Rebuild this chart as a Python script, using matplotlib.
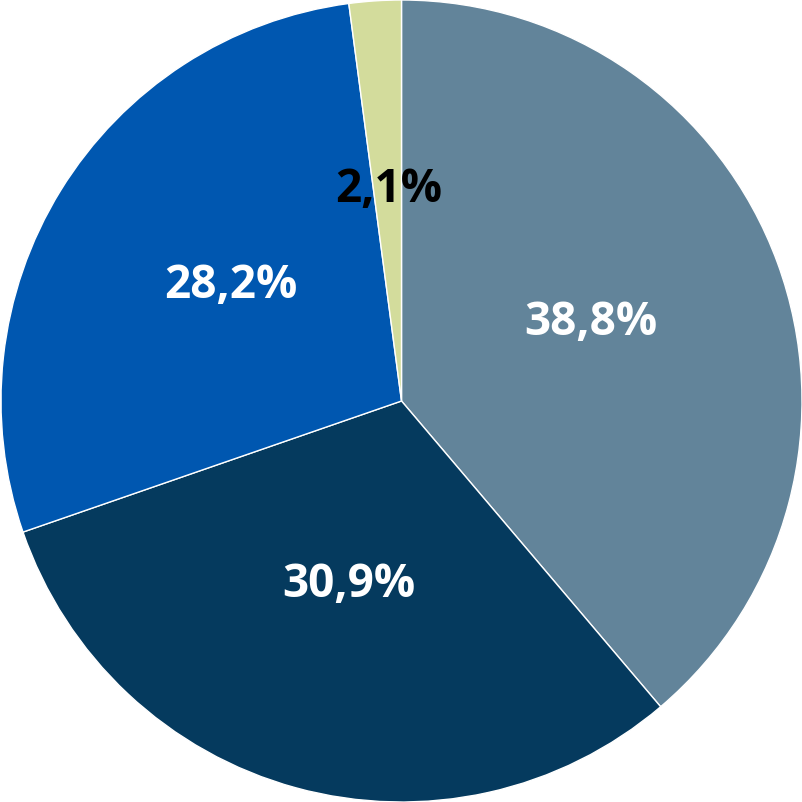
import matplotlib
matplotlib.use('Agg')
import matplotlib.pyplot as plt
import numpy as np

# slice shares in percent, clockwise from 12 o'clock
shares = [38.8, 30.9, 28.2, 2.1]
labels = ['38,8%', '30,9%', '28,2%', '2,1%']
colors = ['#62849a', '#053a5e', '#0057b0', '#d3dc9c']
text_colors = ['white', 'white', 'white', 'black']

# label placement (radius fraction, shift from slice middle in degrees)
label_r = [0.515, 0.467, 0.52, 0.538]
label_shift = [3.3, -1.2, -3.1, -0.3]

fig = plt.figure(figsize=(8.03, 8.02), dpi=100)
ax = fig.add_axes([0, 0, 1, 1])

wedges, _ = ax.pie(shares, colors=colors, startangle=90, counterclock=False,
                   radius=1.0, center=(0, 0),
                   wedgeprops=dict(edgecolor='white', linewidth=1.0))

theta0 = 90.0
half_cap = 16.0 / 401.0
for share, lab, tc, r, sh in zip(shares, labels, text_colors, label_r, label_shift):
    mid = np.deg2rad(theta0 - share * 3.6 / 2 + sh)
    theta0 -= share * 3.6
    ax.text(r * np.cos(mid), r * np.sin(mid) - half_cap, lab, color=tc,
            ha='center', va='baseline', fontsize=33, fontweight='bold',
            family=['Open Sans', 'DejaVu Sans'])

ax.set_xlim(-1.0025, 1.0025)
ax.set_ylim(-1.0, 1.0)
ax.set_aspect('auto')
ax.axis('off')

fig.savefig('out.png', dpi=100)
